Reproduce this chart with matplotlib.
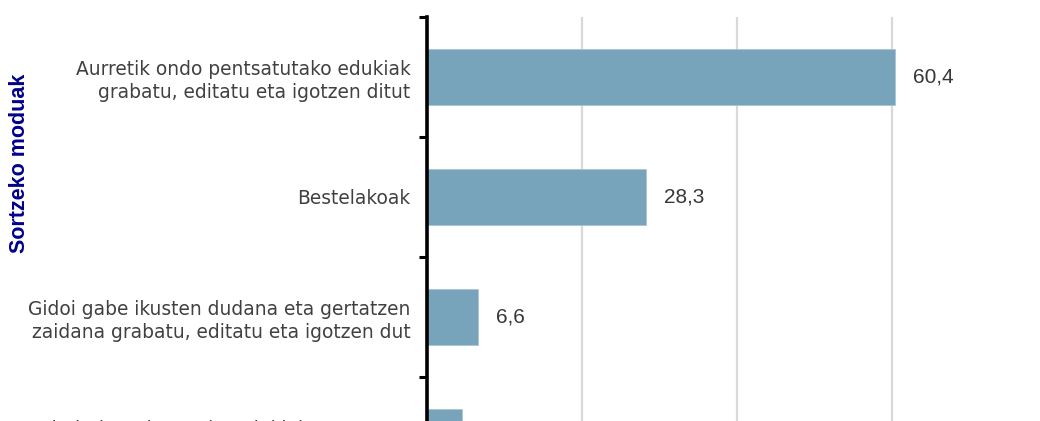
import matplotlib
matplotlib.use("Agg")
import matplotlib.pyplot as plt

categories = [
    "Aurretik ondo pentsatutako edukiak\ngrabatu, editatu eta igotzen ditut",
    "Bestelakoak",
    "Gidoi gabe ikusten dudana eta gertatzen\nzaidana grabatu, editatu eta igotzen dut",
    "Beste norbaitek grabatutako edukiak zuzenean,\neditatu gabe, igotzen ditut",
]
values = [60.4, 28.3, 6.6, 4.5]
value_labels = ["60,4", "28,3", "6,6", "4,5"]
xticks = [0, 20, 40, 60, 80]
axis_title = "Sortzeko moduak"

W, H = 1040, 421
fig = plt.figure(figsize=(W / 100, H / 100), dpi=100)

left_px, top_px = 427, 17
cat_px = 120
right_px = 427 + 80 * 7.75
ax_h = cat_px * len(categories)
ax = fig.add_axes([left_px / W, 1 - (top_px + ax_h) / H,
                   (right_px - left_px) / W, ax_h / H])

bar_color = "#77a4ba"
n = len(categories)
ypos = list(range(n))
ax.barh(ypos, values, height=0.46, color=bar_color, zorder=3,
        edgecolor="#a9c6d4", linewidth=0.6)
ax.set_ylim(n - 0.5, -0.5)
ax.set_xlim(0, 80)

# category labels
ax.set_yticks(ypos)
ax.set_yticklabels(categories, fontsize=13.4, color="#404040",
                   family="DejaVu Sans", linespacing=1.25)
ax.tick_params(axis="y", length=0, pad=12)
# ticks at category boundaries
ax.set_yticks([i - 0.5 for i in range(n + 1)], minor=True)
ax.tick_params(axis="y", which="minor", length=6, width=2.2, color="black",
               direction="out")

ax.set_xticks(xticks)
ax.tick_params(axis="x", length=0, labelbottom=False)
ax.xaxis.grid(True, color="#d9d9d9", linewidth=1.6, zorder=0)
ax.set_axisbelow(True)

for s in ["top", "right", "bottom"]:
    ax.spines[s].set_visible(False)
ax.spines["left"].set_linewidth(2.6)
ax.spines["left"].set_color("black")
ax.spines["left"].set_zorder(4)

for y, v, lab in zip(ypos, values, value_labels):
    ax.annotate(lab, xy=(v, y), xytext=(18, 0), textcoords="offset pixels",
                ha="left", va="center", fontsize=15, color="#383838",
                family="Liberation Sans")

fig.text(20 / W, 1 - 163 / H, axis_title, rotation=90, ha="center",
         va="center", fontsize=15.5, fontweight="bold", color="#00008b",
         family="Liberation Sans")

fig.savefig("out.png", dpi=100)
